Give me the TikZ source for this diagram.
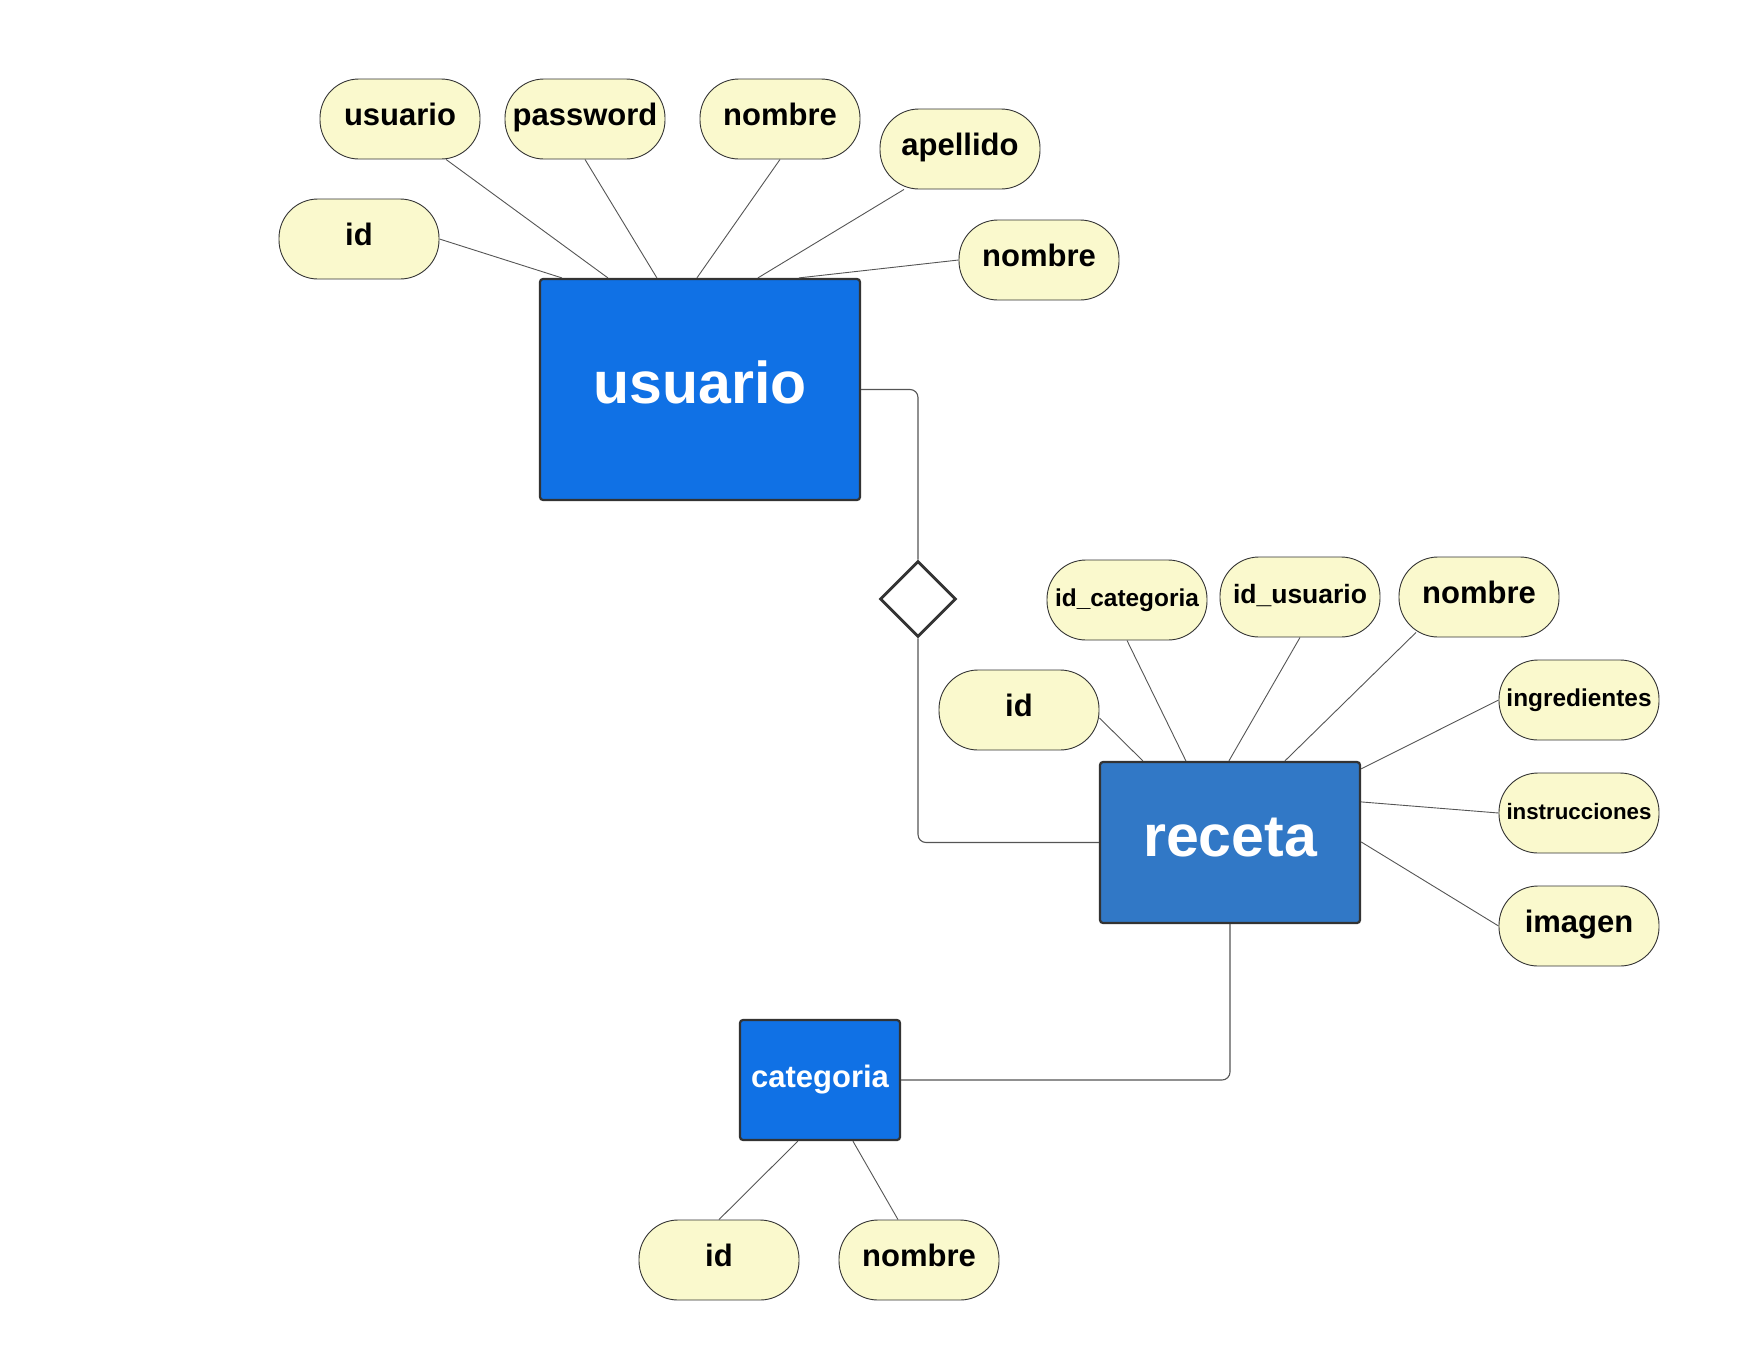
\documentclass[tikz,border=0pt]{standalone}
\usepackage{fontspec}
\setmainfont{Liberation Sans}
\usetikzlibrary{shapes.geometric,calc}
\definecolor{attrfill}{HTML}{FAF9CD}
\definecolor{entblue}{HTML}{1071E5}
\definecolor{entblue2}{HTML}{3178C6}
\definecolor{edgegray}{HTML}{333333}
\definecolor{linegray}{HTML}{555555}
\tikzset{
  attr/.style={draw=edgegray, line width=0.9pt, fill=attrfill, rounded corners=39pt,
    minimum width=160pt, minimum height=80pt, inner sep=0pt, align=center,
    text height=20pt, text depth=7pt,
    font=\fontsize{31}{36}\selectfont\bfseries},
  entity/.style={draw=edgegray, line width=2.2pt, rounded corners=3pt, inner sep=0pt,
    text=white, text height=40pt, text depth=12pt, font=\fontsize{59}{66}\selectfont\bfseries},
  rel/.style={draw=edgegray, line width=2.8pt, fill=white, diamond, minimum width=76pt,
    minimum height=76pt, inner sep=0pt},
  conn/.style={draw=linegray, line width=0.9pt},
  link/.style={draw=linegray, line width=1.1pt, rounded corners=8pt}
}
\begin{document}
\begin{tikzpicture}[x=1pt,y=-1pt]
\useasboundingbox (0,0) rectangle (1760,1360);
% entities
\node[entity, fill=entblue, minimum width=320pt, minimum height=221pt] (u) at (700,389.5) {usuario};
\node[entity, fill=entblue2, minimum width=260pt, minimum height=161pt] (r) at (1230,842.5) {receta};
\node[entity, fill=entblue, minimum width=160pt, minimum height=120pt, text height=22pt, text depth=6.5pt, font=\fontsize{31}{36}\selectfont\bfseries] (c) at (820,1080) {categoria};
\node[rel] (d) at (918,599) {};
% usuario attributes
\node[attr] (uid) at (359,239) {id};
\node[attr] (uusr) at (400,119) {usuario};
\node[attr] (upwd) at (585,119) {password};
\node[attr] (unom) at (780,119) {nombre};
\node[attr] (uape) at (960,149) {apellido};
\node[attr] (unom2) at (1039,260) {nombre};
% receta attributes
\node[attr] (rid) at (1019,710) {id};
\node[attr, font=\fontsize{24.4}{28}\selectfont\bfseries] (ridc) at (1127,600) {id\_categoria};
\node[attr, font=\fontsize{26.5}{30}\selectfont\bfseries] (ridu) at (1300,597) {id\_usuario};
\node[attr] (rnom) at (1479,597) {nombre};
\node[attr, font=\fontsize{24.4}{28}\selectfont\bfseries] (ring) at (1579,700) {ingredientes};
\node[attr, font=\fontsize{22.3}{26}\selectfont\bfseries] (rins) at (1579,813) {instrucciones};
\node[attr] (rimg) at (1579,926) {imagen};
% categoria attributes
\node[attr] (cid) at (719,1260) {id};
\node[attr] (cnom) at (919,1260) {nombre};
% usuario connectors
\draw[conn] (uid.east) -- ($(u.north west)+(23,0)$);
\draw[conn] ($(uusr.south)+(46,0)$) -- ($(u.north west)+(69,0)$);
\draw[conn] (upwd.south) -- ($(u.north west)+(118,0)$);
\draw[conn] (unom.south) -- ($(u.north west)+(158,0)$);
\draw[conn] ($(uape.south)+(-56,0)$) -- ($(u.north west)+(219,0)$);
\draw[conn] (unom2.west) -- ($(u.north west)+(260,0)$);
% receta connectors
\draw[conn] ($(rid.east)+(0,8)$) -- ($(r.north west)+(44,0)$);
\draw[conn] (ridc.south) -- ($(r.north west)+(87,0)$);
\draw[conn] (ridu.south) -- ($(r.north west)+(130,0)$);
\draw[conn] ($(rnom.south)+(-63,-5)$) -- ($(r.north west)+(186,0)$);
\draw[conn] (ring.west) -- ($(r.north east)+(0,8)$);
\draw[conn] (rins.west) -- ($(r.north east)+(0,41)$);
\draw[conn] (rimg.west) -- ($(r.north east)+(0,81)$);
% categoria connectors
\draw[conn] (cid.north) -- ($(c.south west)+(59,0)$);
\draw[conn] ($(cnom.north)+(-21,0)$) -- ($(c.south west)+(114,0)$);
% relationship links
\draw[link] (u.east) -| (d.north);
\draw[link] (d.south) |- (r.west);
\draw[link] (r.south) |- (c.east);
\end{tikzpicture}
\end{document}
